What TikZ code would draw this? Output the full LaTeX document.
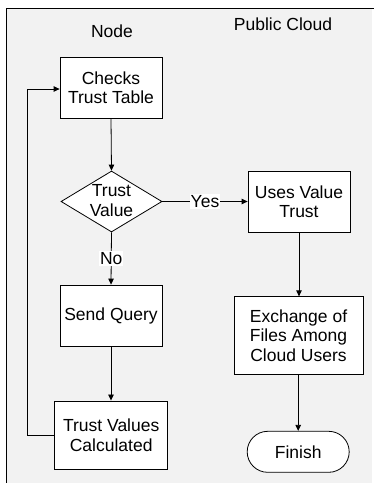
\documentclass[tikz,border=0pt]{standalone}
\usepackage{fontspec}
\setmainfont{Liberation Sans}
\usetikzlibrary{arrows.meta,shapes.geometric}
\definecolor{bggray}{HTML}{F2F2F2}
\tikzset{
  box/.style={draw, fill=white, line width=0.8pt, align=center, inner sep=0pt},
  lbl/.style={font=\fontsize{17.5}{19.5}\selectfont, align=center, inner sep=0pt},
  arr/.style={line width=0.8pt, -{Triangle[length=6pt,width=5.5pt]}},
  ln/.style={line width=0.8pt},
  tag/.style={lbl, fill=white, inner sep=1pt}
}
\begin{document}
\begin{tikzpicture}[x=1pt,y=-1pt]
\useasboundingbox (0,0) rectangle (374,483);
\fill[bggray] (6.5,8) rectangle (372,483);
\draw[line width=1pt] (6.5,484) -- (6.5,8) -- (374,8);
\node[lbl] (tnode) at (112,31) {Node};
\node[lbl] (tcloud) at (283,24) {Public Cloud};
\node[box, minimum width=102pt, minimum height=61pt] (b1) at (111,87.5) {};
\node[lbl] at (b1) {Checks\\Trust Table};
\node[box, diamond, minimum width=101pt, minimum height=61pt] (d) at (111.5,201.5) {};
\node[lbl] at (111.5,200.5) {Trust\\Value};
\node[box, minimum width=102pt, minimum height=61pt] (b2) at (299,201.5) {};
\node[lbl] at (b2) {Uses Value\\Trust};
\node[box, minimum width=129pt, minimum height=77.5pt] (b3) at (298.5,335.5) {};
\node[lbl] at (b3) {Exchange of\\Files Among\\Cloud Users};
\node[box, minimum width=102pt, minimum height=41pt, rounded corners=20.5pt] (fin) at (298.2,451.8) {};
\node[lbl] at (fin) {Finish};
\node[box, minimum width=102pt, minimum height=61pt] (b4) at (111,315.5) {};
\node[lbl] at (b4) {Send Query};
\node[box, minimum width=113pt, minimum height=68.5pt] (b5) at (111.2,435.2) {};
\node[lbl] at (b5) {Trust Values\\Calculated};
\coordinate (c1) at (27,435.5);
\coordinate (c2) at (27,89);
\draw[arr] (b1.south) -- (d.north);
\draw[arr] (d.east) -- (b2.west) node[tag, midway] (yes) {Yes};
\draw[arr] (d.south) -- (b4.north) node[tag, midway] (no) {No};
\draw[arr] (b2.south) -- (b3.north -| b2.south);
\draw[arr] (b3.south -| fin.north) -- (fin.north);
\draw[arr] (b4.south) -- (b5.north -| b4.south);
\draw[ln] (b5.west |- c1) -- (c1) -- (c2);
\draw[arr] (c2) -- (b1.west |- c2);
\end{tikzpicture}
\end{document}
